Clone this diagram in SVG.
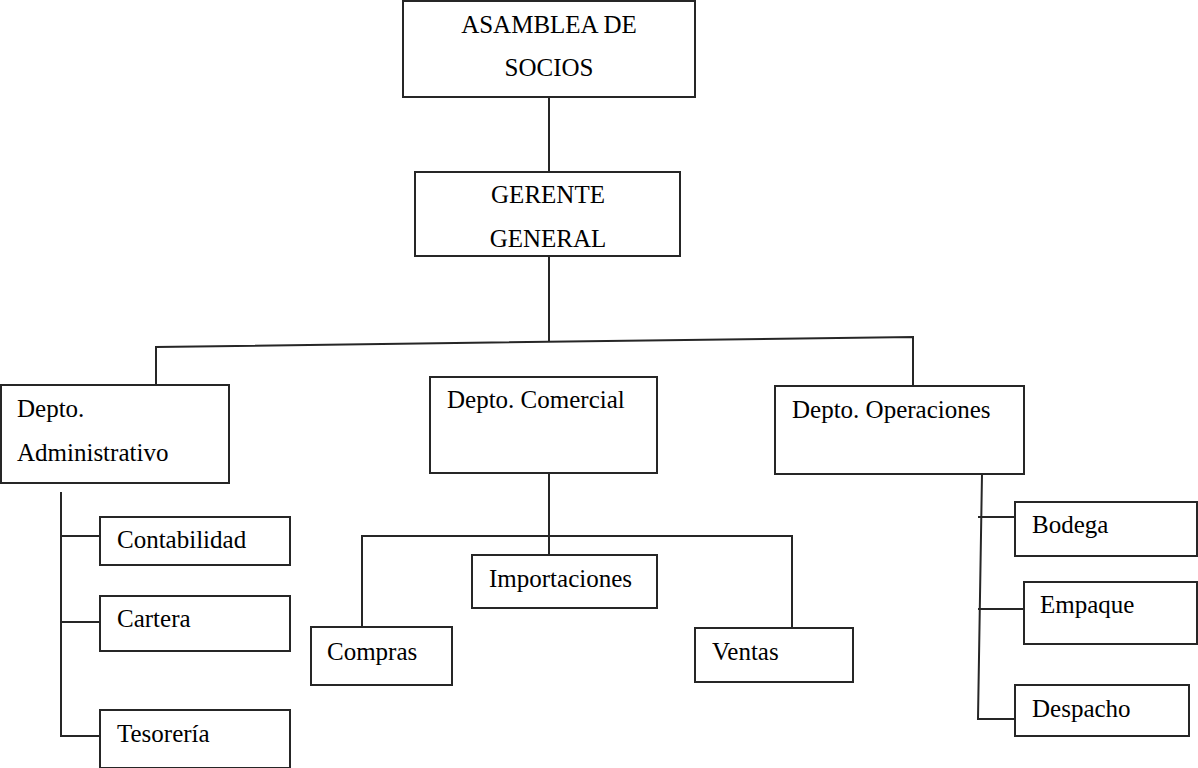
<svg xmlns="http://www.w3.org/2000/svg" width="1198" height="768" viewBox="0 0 1198 768">
<style>
rect{fill:#fff;stroke:#262626;stroke-width:2}
text{font-family:"Liberation Serif","Times New Roman",serif;font-size:25px;fill:#000}
.c{text-anchor:middle}
#connectors path{fill:none;stroke:#262626;stroke-width:2}
</style>
<rect x="0" y="0" width="1198" height="768" style="stroke:none"/>
<g id="connectors">
<path d="M549 97V172"/>
<path d="M549 256V342"/>
<path d="M156 385V347L913 337V386"/>
<path d="M549 474V555"/>
<path d="M362 627V536H792V628"/>
<path d="M61 492V736H100M61 536H100M61 622H100"/>
<path d="M982 474L978 719H1015M978 517H1015M978 609H1024"/>
</g>
<g id="asamblea"><rect x="403" y="1" width="292" height="96"/><text class="c" x="549" y="33">ASAMBLEA DE</text><text class="c" x="549" y="76">SOCIOS</text></g>
<g id="gerente"><rect x="415" y="172" width="265" height="84"/><text class="c" x="548" y="203">GERENTE</text><text class="c" x="548" y="247">GENERAL</text></g>
<g id="admin"><rect x="1" y="385" width="228" height="98"/><text x="17" y="417">Depto.</text><text x="17" y="461">Administrativo</text></g>
<g id="comercial"><rect x="430" y="377" width="227" height="96"/><text x="447" y="408">Depto. Comercial</text></g>
<g id="operaciones"><rect x="775" y="386" width="249" height="88"/><text x="792" y="418">Depto. Operaciones</text></g>
<g id="contabilidad"><rect x="100" y="517" width="190" height="48"/><text x="117" y="548">Contabilidad</text></g>
<g id="cartera"><rect x="100" y="596" width="190" height="55"/><text x="117" y="627">Cartera</text></g>
<g id="tesoreria"><rect x="100" y="710" width="190" height="58"/><text x="117" y="742">Tesorería</text></g>
<g id="compras"><rect x="311" y="627" width="141" height="58"/><text x="327" y="660">Compras</text></g>
<g id="importaciones"><rect x="472" y="555" width="185" height="53"/><text x="489" y="587">Importaciones</text></g>
<g id="ventas"><rect x="695" y="628" width="158" height="54"/><text x="712" y="660">Ventas</text></g>
<g id="bodega"><rect x="1015" y="502" width="182" height="54"/><text x="1032" y="533">Bodega</text></g>
<g id="empaque"><rect x="1024" y="582" width="173" height="62"/><text x="1040" y="613">Empaque</text></g>
<g id="despacho"><rect x="1015" y="685" width="174" height="51"/><text x="1032" y="717">Despacho</text></g>
</svg>
